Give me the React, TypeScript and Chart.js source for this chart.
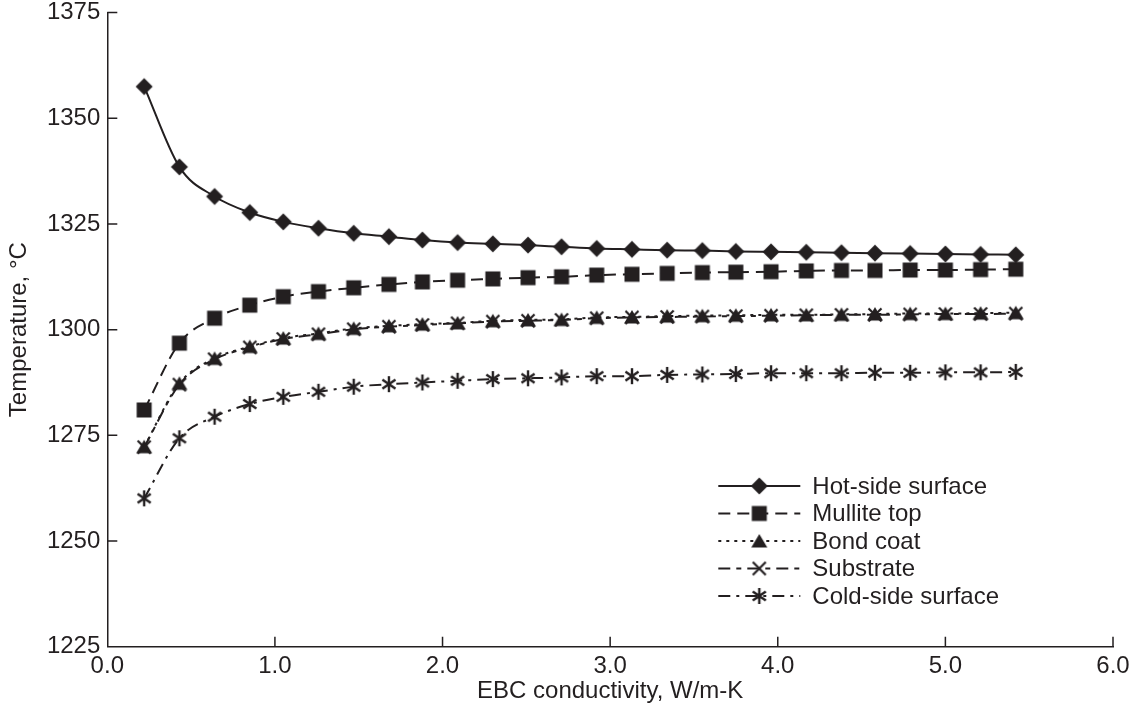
import React, { useEffect, useRef } from 'react';
import { Chart, registerables } from 'chart.js';

Chart.register(...registerables);

const INK = '#231f20';
const FONT_FAMILY = '"Liberation Sans", Arial, Helvetica, sans-serif';

// EBC conductivity, W/m-K
const conductivity = [
  0.22, 0.43, 0.64, 0.85, 1.05, 1.26, 1.47, 1.68, 1.88, 2.09, 2.3, 2.51, 2.71,
  2.92, 3.13, 3.34, 3.55, 3.75, 3.96, 4.17, 4.38, 4.58, 4.79, 5.0, 5.21, 5.42,
];

// Temperatures, °C
const hotSide = [
  1357.5, 1338.5, 1331.5, 1327.7, 1325.5, 1324.0, 1322.8, 1322.0, 1321.2, 1320.6,
  1320.3, 1320.0, 1319.6, 1319.2, 1319.0, 1318.8, 1318.7, 1318.5, 1318.4, 1318.3,
  1318.2, 1318.1, 1318.0, 1317.9, 1317.8, 1317.7,
];
const mulliteTop = [
  1281.0, 1296.8, 1302.7, 1305.8, 1307.8, 1309.0, 1309.9, 1310.7, 1311.3, 1311.7,
  1312.0, 1312.3, 1312.5, 1312.9, 1313.1, 1313.3, 1313.5, 1313.6, 1313.7, 1313.9,
  1314.0, 1314.0, 1314.1, 1314.1, 1314.2, 1314.3,
];
const bondCoat = [
  1272.3, 1287.3, 1293.2, 1296.0, 1298.0, 1299.1, 1300.3, 1300.9, 1301.3, 1301.6,
  1302.1, 1302.3, 1302.4, 1302.9, 1303.0, 1303.2, 1303.3, 1303.4, 1303.5, 1303.5,
  1303.6, 1303.7, 1303.8, 1303.8, 1303.9, 1304.0,
];
const substrate = [
  1272.2, 1287.0, 1293.0, 1295.8, 1297.8, 1298.9, 1300.1, 1300.7, 1301.1, 1301.5,
  1301.9, 1302.1, 1302.3, 1302.7, 1302.9, 1303.0, 1303.1, 1303.2, 1303.3, 1303.4,
  1303.5, 1303.5, 1303.6, 1303.7, 1303.7, 1303.8,
];
const coldSide = [
  1260.1, 1274.3, 1279.4, 1282.4, 1284.1, 1285.3, 1286.5, 1287.1, 1287.5, 1287.9,
  1288.3, 1288.5, 1288.7, 1289.0, 1289.0, 1289.3, 1289.4, 1289.5, 1289.7, 1289.7,
  1289.7, 1289.8, 1289.8, 1289.9, 1289.9, 1290.0,
];

const seriesNames = ['Hot-side surface', 'Mullite top', 'Bond coat', 'Substrate', 'Cold-side surface'];
const seriesValues = [hotSide, mulliteTop, bondCoat, substrate, coldSide];
const seriesMarkers = ['diamond', 'square', 'triangle', 'x', 'asterisk'];
const seriesDashes: number[][] = [[], [12, 7], [3, 5], [12, 6, 5, 6], [12, 6, 3, 6]];

const xAxisMin = 0;
const xAxisMax = 6;
const xAxisStep = 1;
const yAxisMin = 1225;
const yAxisMax = 1375;
const yAxisStep = 25;

function makeMarker(kind: string): HTMLCanvasElement {
  const s = 22;
  const c = document.createElement('canvas');
  c.width = s;
  c.height = s;
  const ctx = c.getContext('2d')!;
  const m = s / 2;
  ctx.fillStyle = INK;
  ctx.strokeStyle = INK;
  ctx.lineCap = 'butt';
  if (kind === 'diamond') {
    ctx.beginPath();
    ctx.moveTo(m, m - 8.5);
    ctx.lineTo(m + 8.5, m);
    ctx.lineTo(m, m + 8.5);
    ctx.lineTo(m - 8.5, m);
    ctx.closePath();
    ctx.fill();
  } else if (kind === 'square') {
    ctx.fillRect(m - 7.5, m - 7.5, 15, 15);
  } else if (kind === 'triangle') {
    ctx.beginPath();
    ctx.moveTo(m, m - 7);
    ctx.lineTo(m + 8, m + 6.5);
    ctx.lineTo(m - 8, m + 6.5);
    ctx.closePath();
    ctx.fill();
  } else if (kind === 'x') {
    ctx.lineWidth = 2.2;
    ctx.beginPath();
    ctx.moveTo(m - 6.5, m - 6.5);
    ctx.lineTo(m + 6.5, m + 6.5);
    ctx.moveTo(m + 6.5, m - 6.5);
    ctx.lineTo(m - 6.5, m + 6.5);
    ctx.stroke();
  } else if (kind === 'asterisk') {
    ctx.lineWidth = 2.4;
    const r = 8;
    const a = (35 * Math.PI) / 180;
    ctx.beginPath();
    ctx.moveTo(m, m - r);
    ctx.lineTo(m, m + r);
    ctx.moveTo(m - r * Math.cos(a), m - r * Math.sin(a));
    ctx.lineTo(m + r * Math.cos(a), m + r * Math.sin(a));
    ctx.moveTo(m + r * Math.cos(a), m - r * Math.sin(a));
    ctx.lineTo(m - r * Math.cos(a), m + r * Math.sin(a));
    ctx.stroke();
  }
  return c;
}

const inwardTicksPlugin = {
  id: 'inwardTicks',
  afterDraw(chart: any) {
    const { ctx } = chart;
    const xs = chart.scales.x;
    const ys = chart.scales.y;
    const area = chart.chartArea;
    ctx.save();
    ctx.strokeStyle = INK;
    ctx.lineWidth = 1.5;
    ctx.setLineDash([]);
    ctx.beginPath();
    xs.ticks.forEach((t: any) => {
      if (t.value === xAxisMin) return;
      const px = xs.getPixelForValue(t.value);
      ctx.moveTo(px, area.bottom);
      ctx.lineTo(px, area.bottom - 10);
    });
    ys.ticks.forEach((t: any) => {
      if (t.value === yAxisMin) return;
      const py = ys.getPixelForValue(t.value);
      ctx.moveTo(area.left, py);
      ctx.lineTo(area.left + 10, py);
    });
    ctx.stroke();
    ctx.restore();
  },
};

const legendPlugin = {
  id: 'lineLegend',
  afterDraw(chart: any) {
    const { ctx } = chart;
    const area = chart.chartArea;
    const x0 = area.left + 611;
    const lineLen = 82;
    const textX = x0 + 94;
    const y0 = 486;
    const rowH = 27.5;
    ctx.save();
    chart.data.datasets.forEach((ds: any, i: number) => {
      const y = y0 + i * rowH;
      ctx.strokeStyle = INK;
      ctx.lineWidth = 2;
      ctx.setLineDash(ds.borderDash || []);
      ctx.beginPath();
      ctx.moveTo(x0, y);
      ctx.lineTo(x0 + lineLen, y);
      ctx.stroke();
      ctx.setLineDash([]);
      const img = ds.pointStyle as HTMLCanvasElement;
      ctx.drawImage(img, x0 + lineLen / 2 - img.width / 2, y - img.height / 2);
      ctx.fillStyle = INK;
      ctx.font = `24px ${FONT_FAMILY}`;
      ctx.textAlign = 'left';
      ctx.textBaseline = 'middle';
      ctx.fillText(ds.label, textX, y + 1);
    });
    ctx.restore();
  },
};

function zeroPadding(s: any) {
  s.paddingTop = 0;
  s.paddingBottom = 0;
  s.paddingLeft = 0;
  s.paddingRight = 0;
}

export default function App() {
  const canvasRef = useRef<HTMLCanvasElement | null>(null);

  useEffect(() => {
    if (!canvasRef.current) return;
    const datasets = seriesNames.map((name, i) => ({
      label: name,
      data: conductivity.map((x, j) => ({ x, y: seriesValues[i][j] })),
      borderColor: INK,
      backgroundColor: INK,
      borderWidth: 2,
      borderDash: seriesDashes[i],
      pointStyle: makeMarker(seriesMarkers[i]),
      pointRadius: 8,
      pointHoverRadius: 8,
      cubicInterpolationMode: 'monotone' as const,
      fill: false,
    }));

    const tickFont = { family: FONT_FAMILY, size: 24 };
    const titleFont = { family: FONT_FAMILY, size: 24 };

    const chart = new Chart(canvasRef.current, {
      type: 'line',
      data: { datasets },
      options: {
        animation: false,
        responsive: true,
        maintainAspectRatio: false,
        layout: { padding: { left: 0, right: 25, top: 12.6, bottom: 0 } },
        plugins: {
          legend: { display: false },
          tooltip: { enabled: false },
        },
        scales: {
          x: {
            type: 'linear',
            min: xAxisMin,
            max: xAxisMax,
            afterFit: (s: any) => {
              s.height = 65.3;
              zeroPadding(s);
            },
            ticks: {
              stepSize: xAxisStep,
              callback: (v: any) => Number(v).toFixed(1),
              font: tickFont,
              color: INK,
              padding: 5,
              maxRotation: 0,
            },
            grid: { display: true, drawOnChartArea: false, drawTicks: false },
            border: { display: true, color: INK, width: 1.5 },
            title: {
              display: true,
              text: 'EBC conductivity, W/m-K',
              font: titleFont,
              color: INK,
              padding: { top: 0, bottom: 6 },
            },
          },
          y: {
            type: 'linear',
            min: yAxisMin,
            max: yAxisMax,
            afterFit: (s: any) => {
              s.width = 107.3;
              zeroPadding(s);
            },
            ticks: {
              stepSize: yAxisStep,
              callback: (v: any) => String(v),
              font: tickFont,
              color: INK,
              padding: 7,
            },
            grid: { display: true, drawOnChartArea: false, drawTicks: false },
            border: { display: true, color: INK, width: 1.5 },
            title: {
              display: true,
              text: 'Temperature, °C',
              font: titleFont,
              color: INK,
              padding: { top: 5, bottom: 0 },
            },
          },
        },
      },
      plugins: [inwardTicksPlugin, legendPlugin],
    });
    return () => chart.destroy();
  }, []);

  return (
    <div style={{ position: 'absolute', left: 0, top: 0, width: 1138, height: 712, background: '#fff' }}>
      <canvas ref={canvasRef} />
    </div>
  );
}
